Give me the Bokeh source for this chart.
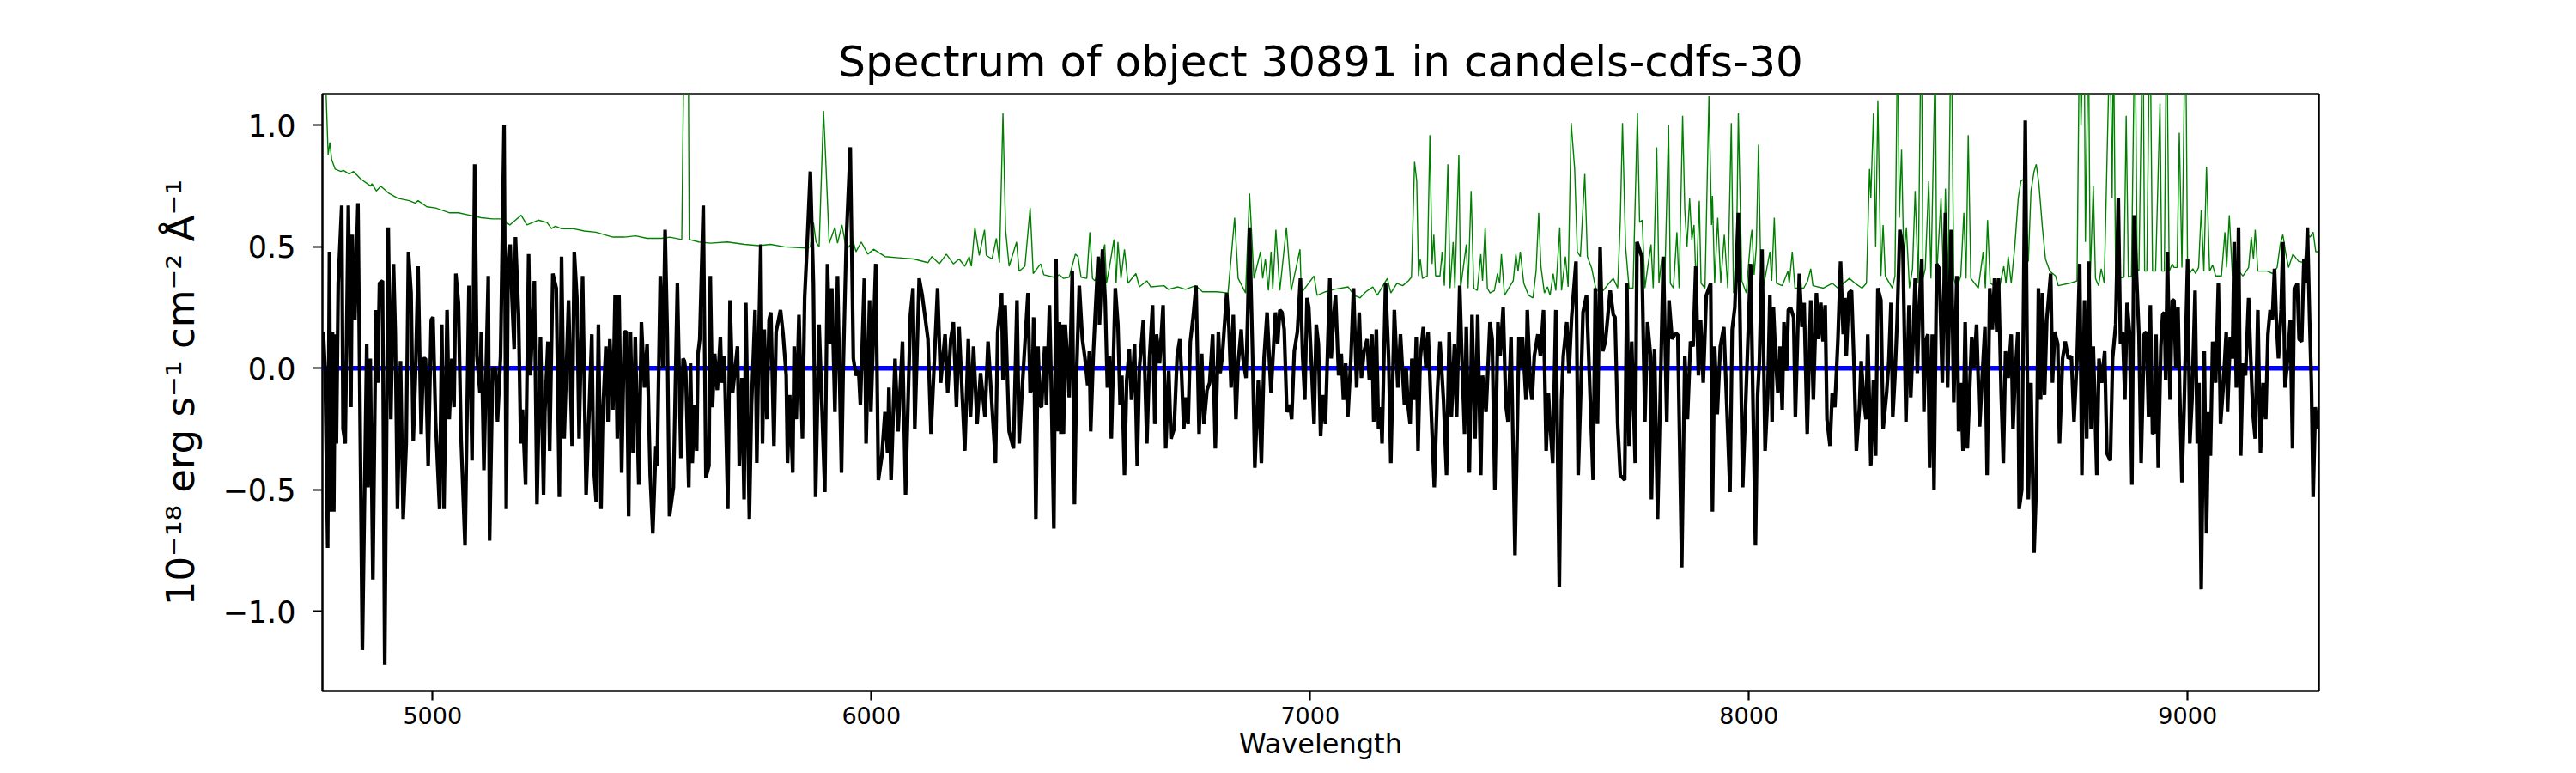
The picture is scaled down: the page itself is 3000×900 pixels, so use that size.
from bokeh.plotting import figure
from bokeh.models import Range1d, Span, FixedTicker, CustomJSTickFormatter
from bokeh.embed import file_html
from bokeh.resources import INLINE

title_text = "Spectrum of object 30891 in candels-cdfs-30"
x_label = "Wavelength"
y_label = "10\u207b\u00b9\u2078 erg s\u207b\u00b9 cm\u207b\u00b2 \u00c5\u207b\u00b9"
x_ticks = [5000, 6000, 7000, 8000, 9000]
y_ticks = [-1.0, -0.5, 0.0, 0.5, 1.0]
x_limits = [4749, 9299]
y_limits = [-1.3285, 1.129]

# object flux (black)
wave_flux = [
4751,4755,4761,4765,4768,4772,4775,4778,4781,4785,4793,4796,4801,4808,4814,4817,4823,4830,4840,4850,
4853,4858,4864,4871,4875,4879,4886,4891,4899,4905,4911,4915,4920,4927,4933,4940,4945,4951,4956,4961,
4967,4974,4979,4984,4990,4997,5001,5007,5016,5021,5026,5033,5038,5044,5049,5053,5059,5065,5074,5083,
5090,5096,5101,5108,5111,5117,5127,5130,5137,5144,5148,5155,5163,5168,5172,5177,5181,5186,5189,5196,
5201,5205,5212,5219,5223,5232,5238,5246,5253,5256,5263,5267,5274,5282,5289,5294,5300,5310,5318,5323,
5329,5334,5342,5350,5357,5363,5367,5373,5378,5384,5388,5395,5400,5404,5411,5416,5421,5425,5431,5437,
5442,5447,5451,5457,5462,5470,5476,5483,5489,5496,5502,5509,5512,5519,5525,5530,5535,5540,
5549,5558,5566,5571,5574,5577,5584,5588,5592,5597,5602,5605,5609,5617,5623,5630,5633,5638,5643,5649,
5656,5659,5665,5673,5678,5684,5695,5699,5705,5710,5714,5722,5727,5735,5739,5744,5748,5752,5756,5762,
5767,5771,5778,5783,5793,5799,5806,5809,5814,5821,5824,5829,5835,5843,5848,5853,5861,5868,5873,5881,
5894,5900,5905,5910,5917,5923,5932,5936,5943,5952,5959,5965,5971,5975,5984,5988,5996,5999,6010,6016,
6024,6031,6037,6040,6045,6054,6061,6071,6078,6089,6095,6099,6109,6116,6129,6136,6151,6158,6168,6174,
6181,6187,6194,6200,6213,6221,6226,6233,6241,6249,6259,6266,6283,6288,6297,6300,6305,6314,6324,6332,
6337,6344,6357,6362,
6367,6370,6375,6380,6384,6388,6395,6399,6406,6410,6416,6421,6425,6429,6432,6435,6438,6442,6447,6451,
6458,6463,6468,6474,6481,6487,6493,6497,6500,6506,6510,6517,6520,6527,6533,6538,6543,6547,6556,6562,
6567,6571,6577,6582,6588,6593,6600,6606,6611,6620,6628,6634,6641,6646,6650,6657,6665,6671,6678,6683,
6690,6697,6703,6707,6712,6717,6722,6727,6734,6740,6747,6753,6758,6765,6771,6778,6784,6791,6795,6800,
6810,6815,6820,6825,6831,6836,6843,6847,6854,6858,6862,6869,6874,6882,6889,6895,6902,6907,6911,6921,
6926,6931,6936,6941,6947,6954,6958,6964,6971,6978,6983,6988,6993,6997,7003,7009,7014,7019,7024,7029,
7035,7041,7045,7048,7054,7058,7065,7071,7076,7081,7086,7093,7099,7106,7112,7117,7123,7130,7135,7141,
7145,7151,7156,7161,7164,7172,7179,7184,
7192,7200,7206,7215,7219,7223,7228,7232,7238,7242,7246,7251,7258,7264,7269,7275,7283,7290,7296,7304,
7311,7317,7322,7329,7334,7341,7345,7352,7356,7363,7369,7376,7382,7389,7393,7401,7410,7415,7421,7428,
7433,7440,7446,7451,7458,7467,7476,7479,7484,7492,7495,7502,7506,7511,7519,7525,7532,7538,7543,7547,
7553,7560,7568,7573,7577,7585,7590,7596,7606,7611,7616,7622,7630,7645,7650,7655,7661,7667,7673,7684,
7691,7695,7701,7707,7717,7722,7727,7733,7741,7745,7756,7763,7769,7776,7778,7785,7792,7805,7813,7818,
7825,7831,7838,7847,7854,7860,7867,7873,7879,7885,7890,7896,7903,7913,7917,7922,7928,7935,7943,7948,
7957,7962,7968,7976,7986,8004,
8015,8020,8024,8030,8037,8043,8048,8053,8056,8061,8066,8071,8076,8080,8086,8090,8095,8102,8106,8115,
8121,8126,8133,8141,8147,8154,8159,8164,8169,8174,8178,8185,8190,8196,8203,8209,8215,8219,8222,8228,
8234,8239,8245,8252,8256,8262,8267,8271,8278,8284,8289,8294,8301,8306,8314,8319,8324,8328,8333,8338,
8344,8351,8358,8365,8369,8374,8379,8384,8389,8394,8399,8403,8408,8412,8418,8422,8428,8434,8441,8448,
8453,8461,8467,8474,8478,8483,8488,8493,8498,8503,8508,8513,8519,8526,8532,8538,8543,8549,8555,8560,
8565,8569,8575,8580,8585,8591,8598,8602,8607,8613,8616,8622,8630,8637,8643,8650,8655,8660,8665,8669,
8674,8679,8688,8692,8697,8704,8708,8715,8721,8728,8735,8741,8748,8754,8759,8765,8770,8775,8780,8785,
8793,8798,8804,8811,8816,8824,
8829,8836,8842,8847,8852,8857,8862,8868,8873,8878,8885,8889,8894,8901,8906,8911,8915,8920,8925,8928,
8933,8939,8943,8947,8950,8954,8960,8965,8969,8973,8978,8982,8987,8992,9000,9005,9010,9017,9022,9026,
9031,9038,9043,9048,9052,9057,9064,9070,9075,9081,9088,9091,9097,9102,9106,9111,9116,9121,9126,9132,
9139,9144,9149,9154,9160,9166,9172,9178,9183,9188,9193,9198,9202,9207,9213,9217,9222,9228,9234,9239,
9243,9250,9254,9260,9265,9269,9273,9278,9282,9286,9291,9296,9299,
]
flux = [
0.15,0.0,-0.74,0.48,-0.59,0.15,-0.59,0.14,-0.31,0.35,0.67,-0.25,-0.31,0.67,-0.16,0.55,0.20,0.68,-1.16,0.10,
-0.49,0.04,-0.87,0.24,-0.06,0.35,0.36,-1.22,0.58,-0.21,0.43,0.15,-0.58,0.03,-0.62,-0.31,0.48,0.31,-0.30,-0.03,
0.42,-0.27,0.04,0.04,-0.40,0.20,0.21,-0.22,-0.58,0.18,-0.58,0.24,-0.21,0.04,-0.16,0.39,0.27,-0.29,-0.73,0.34,
-0.38,0.84,0.05,-0.10,0.15,-0.42,0.38,-0.71,0.0,0.0,-0.22,0.05,1.00,-0.58,0.38,0.51,0.29,0.08,0.54,0.22,
-0.31,-0.17,-0.48,0.47,-0.03,0.36,-0.56,0.13,-0.52,-0.18,0.11,-0.34,0.39,0.33,-0.53,0.46,-0.29,0.28,-0.32,0.48,
0.29,-0.29,0.38,-0.52,-0.17,0.14,-0.40,-0.55,0.18,-0.58,-0.19,0.09,-0.22,0.12,-0.17,0.30,-0.29,0.30,-0.43,0.15,
0.15,-0.61,0.15,-0.35,0.13,-0.48,0.19,-0.08,0.10,-0.44,-0.68,-0.32,-0.40,0.38,0.0,0.57,0.14,-0.61,
-0.49,0.35,-0.37,0.04,0.03,-0.01,-0.49,0.02,-0.39,-0.15,-0.34,0.06,0.12,0.67,-0.45,-0.40,0.38,-0.16,0.06,-0.09,
0.13,-0.06,0.05,-0.58,0.28,-0.10,0.09,-0.40,-0.04,-0.54,0.27,-0.62,-0.15,0.24,-0.39,0.16,0.51,-0.31,0.16,-0.21,
0.20,0.23,-0.32,0.15,0.24,0.14,-0.03,-0.39,-0.11,-0.43,0.09,-0.21,0.22,-0.29,0.29,0.48,0.81,0.35,-0.53,0.18,
-0.51,0.43,0.10,0.33,-0.18,0.38,-0.43,0.0,0.53,0.91,0.04,-0.03,-0.01,-0.15,0.37,-0.31,0.28,-0.18,0.43,-0.46,
-0.36,-0.18,-0.35,-0.08,-0.46,0.04,-0.26,0.11,-0.52,0.22,0.33,-0.25,0.37,0.30,0.12,-0.27,0.33,-0.06,0.14,-0.10,
0.12,0.19,-0.16,0.17,-0.34,0.12,-0.20,0.09,-0.23,-0.02,-0.20,0.11,-0.39,0.15,0.31,-0.05,0.26,-0.26,-0.33,0.28,
-0.31,-0.08,0.31,-0.10,
-0.08,0.21,-0.62,0.09,-0.15,-0.16,0.09,-0.15,0.26,-0.06,-0.66,0.45,-0.26,0.19,-0.27,0.18,-0.27,0.18,0.04,-0.12,
0.40,-0.56,-0.01,0.34,0.12,0.04,-0.07,0.07,-0.26,0.06,0.21,0.46,0.18,0.49,0.28,-0.08,0.05,-0.29,0.33,0.18,
-0.15,-0.03,-0.44,-0.05,0.08,-0.13,0.10,-0.40,0.0,0.20,-0.31,0.04,0.26,-0.23,0.14,0.02,0.26,-0.33,-0.01,-0.29,
-0.25,0.05,0.12,-0.02,-0.25,-0.12,-0.23,0.11,0.22,0.34,-0.27,0.06,-0.23,-0.09,-0.06,0.14,-0.33,0.15,-0.02,0.05,
0.31,0.17,-0.08,0.22,-0.21,0.02,0.16,0.04,-0.04,0.24,0.58,0.05,-0.41,-0.05,-0.39,0.04,0.23,0.04,-0.10,0.23,
0.10,0.24,0.23,0.16,-0.18,-0.15,-0.21,0.07,0.15,0.37,0.05,-0.13,0.29,0.25,0.02,-0.23,0.18,0.10,-0.28,-0.11,
-0.23,0.14,0.37,0.04,0.22,0.30,-0.03,0.06,-0.13,0.02,-0.20,0.04,0.33,-0.08,0.23,-0.04,0.07,0.12,-0.05,0.14,
-0.22,0.16,-0.25,-0.16,-0.31,0.35,0.04,-0.39,
0.24,-0.08,0.14,-0.15,0.0,-0.15,-0.23,0.04,-0.13,0.13,-0.34,0.04,0.17,0.0,0.15,-0.13,-0.49,-0.10,0.11,-0.13,
-0.44,0.15,-0.20,0.10,-0.20,0.34,0.10,-0.27,0.17,-0.43,0.22,-0.29,0.22,-0.44,-0.03,-0.18,0.19,0.12,-0.50,0.19,
0.05,0.25,-0.15,-0.22,0.13,-0.77,0.13,0.0,0.13,-0.13,0.24,-0.08,-0.13,0.05,0.14,0.05,0.24,-0.34,-0.10,-0.23,
-0.39,0.24,-0.90,-0.13,0.05,0.19,-0.02,0.21,0.44,-0.44,-0.15,0.23,0.30,-0.46,0.33,-0.23,0.50,0.07,0.11,0.32,
0.22,0.21,-0.23,-0.44,-0.46,0.35,-0.32,0.11,-0.39,0.52,0.46,-0.22,0.19,0.05,-0.54,0.08,-0.62,0.46,-0.22,0.28,
0.12,0.14,0.14,-0.82,0.05,-0.21,0.11,0.09,0.42,-0.03,0.20,-0.06,0.30,0.35,-0.59,0.09,-0.19,0.09,0.17,-0.07,
-0.51,0.16,0.25,0.64,-0.49,0.43,
-0.73,-0.11,0.03,0.49,-0.34,-0.11,0.30,-0.22,0.25,0.04,-0.10,0.09,-0.17,0.19,-0.01,0.24,0.25,0.21,-0.20,0.39,
0.17,0.27,-0.27,0.28,-0.13,0.31,0.12,0.27,0.11,0.26,-0.21,-0.32,-0.10,-0.16,0.12,0.44,0.14,0.29,0.05,0.31,
0.32,0.05,-0.34,-0.16,0.03,-0.13,-0.21,0.14,-0.40,-0.05,-0.36,0.33,0.28,-0.25,-0.10,0.03,0.27,-0.20,-0.03,0.20,
0.57,0.50,-0.22,0.26,-0.12,0.10,0.37,-0.02,0.28,0.45,-0.18,0.11,0.14,-0.41,0.14,-0.50,0.43,0.41,-0.06,0.64,
-0.08,0.57,-0.14,0.38,-0.26,-0.06,-0.34,0.19,-0.33,-0.10,0.13,0.0,0.18,-0.24,-0.03,0.17,-0.44,0.33,0.16,0.37,
0.15,0.37,-0.10,-0.39,0.07,-0.04,0.14,-0.25,-0.03,0.15,-0.58,-0.50,1.02,-0.54,-0.06,-0.76,-0.49,0.33,-0.13,0.31,
-0.11,0.20,0.39,-0.06,0.15,0.10,-0.31,0.04,0.11,0.04,0.05,-0.22,0.04,0.43,-0.44,0.28,-0.29,0.44,-0.25,0.09,
-0.44,0.04,-0.06,0.07,-0.35,-0.38,
0.04,0.18,0.70,0.10,0.15,-0.13,0.27,0.14,-0.48,0.63,0.32,0.14,-0.39,0.14,0.15,-0.20,0.26,-0.27,-0.26,0.14,
-0.41,0.09,0.22,0.23,-0.05,0.48,-0.13,0.28,0.28,0.0,0.25,-0.10,-0.47,-0.16,0.45,-0.31,-0.13,0.32,-0.31,-0.06,
-0.91,0.07,-0.68,-0.18,-0.36,0.11,-0.06,0.35,-0.23,-0.08,0.15,-0.18,0.13,0.04,0.52,-0.08,0.58,-0.36,0.02,-0.03,
0.29,0.03,-0.19,-0.29,0.24,-0.35,-0.06,-0.21,0.14,0.24,0.20,0.41,0.20,0.04,0.24,0.52,-0.08,0.04,0.20,-0.33,
0.32,0.35,0.12,0.11,0.45,0.35,0.58,0.20,-0.06,-0.53,-0.16,-0.25,-0.24,
]

# noise spectrum (green)
wave_noise = [
4752,4757,4762,4766,4770,4778,4791,4797,4810,4820,4836,4859,4862,4872,4882,4901,4921,4947,4960,4967,
4987,5007,5039,5059,5085,5111,5137,5157,5176,5189,5202,5215,5241,5261,5271,5280,5293,5319,5346,5372,
5411,5437,5463,5489,5522,
5541,5568,5574,5582,5585,5607,5633,5672,5711,5744,5770,5802,5851,5861,5868,5874,5881,5891,5896,5904,
5917,5923,5933,5943,5959,5965,5977,5992,6005,6031,6063,6096,6129,6138,6155,6171,6187,6200,6213,6223,
6228,6236,6246,6258,6262,6275,6285,6292,6300,6306,6314,6331,6337,6350,6362,
6369,6386,6393,6416,6429,6438,6451,6465,6471,6478,6491,6498,6504,6510,6532,6536,6543,6553,6558,6562,
6569,6577,6585,6603,6611,6628,6637,6667,6677,6699,6716,6739,6755,6787,6813,6828,6836,6853,6862,6872,
6887,6892,6898,6905,6911,6915,6922,6931,6946,6957,6977,6980,7009,7016,7035,7055,7087,7100,7114,7127,
7143,7153,7176,7184,
7198,7211,7224,7231,7238,7243,7247,7251,7256,7267,7273,7278,7282,7286,7296,7301,7306,7314,7319,7326,
7330,7339,7343,7356,7360,7367,7373,7381,7389,7393,7399,7404,7410,7420,7427,7432,7436,7443,7463,7469,
7474,7479,7487,7498,7508,7515,7521,7526,7534,7541,7547,7554,7560,7569,7573,7582,7588,7595,7603,7609,
7616,7626,7632,7642,7652,7668,7681,7691,7701,7707,7712,7719,7727,7736,7746,7751,7757,7763,7769,7777,
7782,7790,7795,7802,7808,7817,7821,7828,7836,7841,7849,7854,7859,7865,7870,7875,7880,7887,7891,7900,
7909,7915,7917,7922,7929,7936,7944,7952,7960,7965,7971,7976,7984,7994,8004,
8007,8012,8017,8022,8027,8033,8048,8052,8058,8063,8076,8089,8092,8099,8105,8125,8134,8141,8146,8170,
8190,8203,8229,8242,8258,8268,8275,8278,8284,8289,8294,8301,8306,8311,8327,8333,8339,8343,8348,8353,
8359,8366,8373,8379,8386,8393,8397,8402,8410,8415,8425,8428,8438,8444,8448,8454,8461,8467,8474,8483,
8490,8495,8500,8506,8523,8534,8539,8544,8550,8571,8581,8586,8591,8598,8606,8614,8620,8627,8637,8643,
8650,8655,8661,8669,8676,8686,8699,8705,8731,8748,8754,8757,8764,8767,8774,8778,8785,8790,8797,8803,
8810,8823,
8828,8831,8836,8842,8855,8860,8865,8872,8880,8885,8889,8898,8902,8907,8914,8920,8927,8937,8941,8947,
8952,8958,8965,8969,8976,8981,8987,8995,9000,9012,9018,9025,9031,9037,9043,9050,9057,9064,9077,9085,
9089,9095,9102,9110,9126,9139,9145,9150,9154,9160,9181,9194,9204,9211,9217,9224,9230,9240,9253,9266,
9273,9279,9286,9292,9298,
]
noise = [
1.30,1.15,0.88,0.93,0.86,0.82,0.81,0.815,0.80,0.81,0.78,0.75,0.76,0.73,0.75,0.72,0.70,0.69,0.68,0.69,
0.665,0.66,0.64,0.64,0.63,0.62,0.615,0.615,0.59,0.61,0.63,0.59,0.61,0.60,0.575,0.585,0.575,0.575,0.565,0.56,
0.54,0.54,0.545,0.535,0.535,
0.54,0.53,1.5,1.6,0.53,0.52,0.515,0.52,0.51,0.505,0.51,0.50,0.495,0.50,0.60,0.52,0.50,1.06,0.86,0.515,
0.58,0.515,0.59,0.49,0.52,0.48,0.52,0.47,0.49,0.46,0.455,0.45,0.435,0.46,0.43,0.47,0.43,0.45,0.42,0.46,
0.42,0.58,0.465,0.57,0.465,0.45,0.535,0.435,1.05,0.57,0.42,0.52,0.40,0.42,0.66,
0.39,0.43,0.385,0.375,0.385,0.37,0.375,0.47,0.46,0.375,0.37,0.56,0.37,0.36,0.51,0.35,0.42,0.53,0.35,0.52,
0.37,0.49,0.35,0.39,0.335,0.36,0.335,0.34,0.325,0.335,0.325,0.34,0.315,0.315,0.31,0.62,0.37,0.31,0.72,0.37,
0.48,0.37,0.45,0.32,0.48,0.325,0.57,0.32,0.58,0.32,0.49,0.31,0.38,0.30,0.315,0.325,0.335,0.30,0.29,0.315,
0.335,0.30,0.37,0.31,
0.35,0.34,0.36,0.375,0.85,0.77,0.38,0.45,0.37,0.38,0.96,0.43,0.55,0.38,0.38,0.48,0.34,0.84,0.33,0.52,
0.33,0.88,0.33,0.51,0.33,0.73,0.33,0.32,0.47,0.36,0.58,0.33,0.31,0.32,0.39,0.35,0.47,0.30,0.36,0.47,
0.40,0.48,0.35,0.30,0.29,0.40,0.64,0.42,0.31,0.335,0.30,0.39,0.32,0.58,0.32,0.46,0.335,1.01,0.82,0.48,
0.46,0.80,0.46,0.41,0.32,0.32,0.35,0.37,0.33,0.61,1.01,0.50,0.33,0.33,1.05,0.60,0.61,0.33,0.41,0.51,
0.33,0.91,0.35,0.46,0.33,1.0,0.35,0.33,0.56,0.33,1.04,0.65,0.50,0.70,0.53,0.59,0.33,0.69,0.35,0.33,
1.12,0.59,0.71,0.35,0.62,0.35,0.55,0.33,1.01,0.31,0.36,1.05,0.36,0.31,0.53,
0.57,0.385,0.50,0.92,0.415,0.335,0.48,0.36,0.62,0.35,0.34,0.40,0.35,0.48,0.33,0.33,0.36,0.41,0.34,0.33,
0.35,0.33,0.37,0.35,0.33,0.35,0.82,0.70,1.05,0.50,1.10,0.38,0.59,0.38,0.33,0.38,1.4,0.62,0.90,0.45,
0.58,0.33,0.41,0.73,0.35,1.5,0.37,0.41,0.77,0.37,1.3,0.38,0.70,0.35,0.74,0.33,1.5,0.37,0.33,0.38,
0.64,0.37,0.96,0.37,0.33,0.48,0.33,0.61,0.35,0.33,0.42,0.35,0.46,0.35,0.50,0.70,0.77,0.78,0.44,0.73,
0.81,0.84,0.76,0.58,0.45,0.40,0.38,0.34,0.35,0.36,1.5,1.0,1.5,0.52,1.4,0.37,0.75,0.37,0.34,0.41,
0.35,1.4,
0.70,1.4,0.37,0.37,0.375,1.04,0.375,0.38,1.5,0.41,0.40,1.5,0.40,0.40,1.5,0.40,0.40,1.09,0.40,0.40,
1.5,0.40,0.43,0.415,0.415,0.97,0.415,1.5,0.38,0.41,0.39,0.415,0.65,0.40,0.83,0.40,0.425,0.38,0.38,0.56,
0.415,0.63,0.38,0.415,0.38,0.415,0.54,0.45,0.57,0.40,0.40,0.39,0.415,0.51,0.55,0.47,0.415,0.47,0.44,0.435,
0.55,0.54,0.56,0.48,0.48,
]

assert len(wave_flux) == len(flux), (len(wave_flux), len(flux))
assert len(wave_noise) == len(noise), (len(wave_noise), len(noise))

FONT = "DejaVu Sans"

p = figure(width=2984, height=892, output_backend="svg", toolbar_location=None,
           x_range=Range1d(x_limits[0], x_limits[1]), y_range=Range1d(y_limits[0], y_limits[1]),
           min_border_left=375, min_border_right=284, min_border_top=109, min_border_bottom=88,
           background_fill_color="white", border_fill_color="white")

p.title.text = title_text
p.title.text_font = FONT
p.title.text_font_size = "50px"
p.title.text_font_style = "normal"
p.title.align = "center"
p.title.text_color = "black"
p.title.standoff = 18

p.grid.visible = False
p.outline_line_color = "black"
p.outline_line_width = 2.5
p.outline_line_alpha = 1.0

zero = Span(location=0, dimension="width", line_color="#0000ff", line_width=5.5, level="underlay")
p.add_layout(zero)

p.line(wave_noise, noise, line_color="#008000", line_width=1.4)
p.line(wave_flux, flux, line_color="black", line_width=4.2)

fmt = CustomJSTickFormatter(code="return tick.toFixed(1).replace('-', '\u2212');")

p.yaxis.ticker = FixedTicker(ticks=y_ticks)
p.yaxis.formatter = fmt
p.xaxis.ticker = FixedTicker(ticks=x_ticks)

for ax in (p.xaxis[0], p.yaxis[0]):
    ax.axis_line_color = None
    ax.major_tick_line_color = "black"
    ax.major_tick_line_width = 2.2
    ax.major_tick_out = 11
    ax.major_tick_in = 0
    ax.minor_tick_line_color = None
    ax.major_label_text_font = FONT
    ax.major_label_text_color = "black"
    ax.axis_label_text_font = FONT
    ax.axis_label_text_font_style = "normal"
    ax.axis_label_text_color = "black"

p.yaxis.major_label_text_font_size = "35px"
p.yaxis.major_label_standoff = 20
p.yaxis.axis_label = y_label
p.yaxis.axis_label_text_font_size = "45px"
p.yaxis.axis_label_standoff = 20

p.xaxis.major_label_text_font_size = "27px"
p.xaxis.major_label_standoff = 7
p.xaxis.axis_label = x_label
p.xaxis.axis_label_text_font_size = "32px"
p.xaxis.axis_label_standoff = 1

open("out.html", "w").write(file_html(p, INLINE))
